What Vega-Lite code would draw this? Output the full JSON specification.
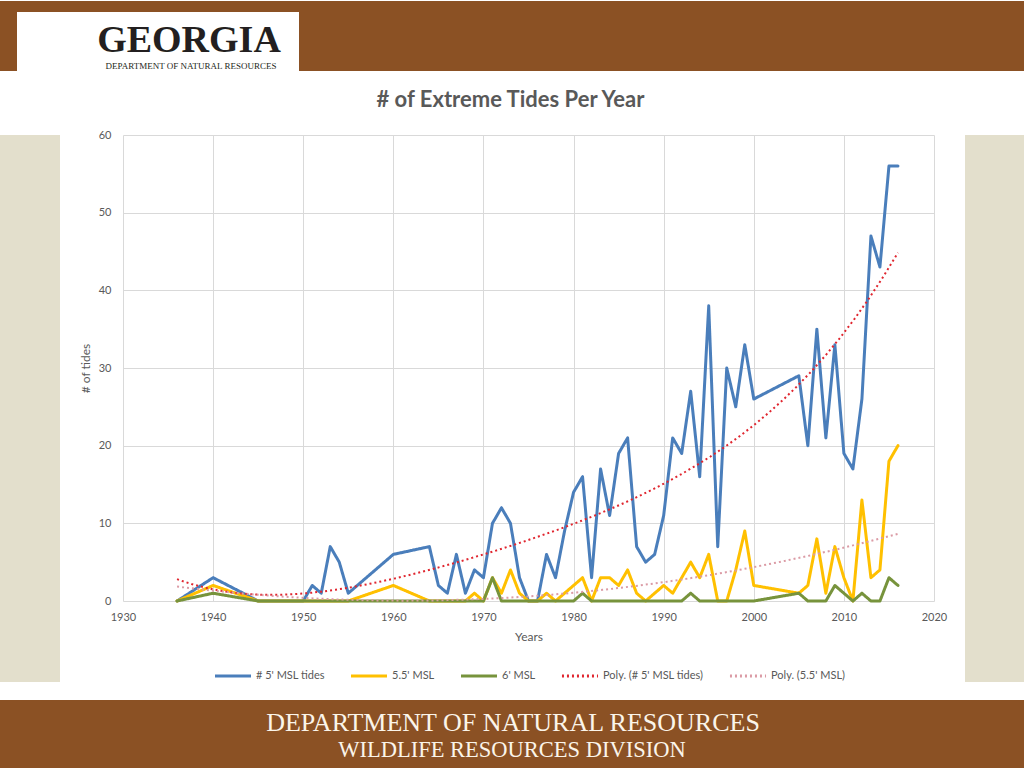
{
  "$schema": "https://vega.github.io/schema/vega-lite/v6.json",
  "padding": 0,
  "background": "#FFFFFF",
  "spacing": 18,
  "resolve": {"scale": {"color": "independent", "strokeDash": "independent"}, "legend": {"color": "independent", "strokeDash": "independent"}},
  "datasets": {
    "tides": [
      {"year": 1936, "a5": 0, "a55": 0, "a6": 0},
      {"year": 1940, "a5": 3, "a55": 2, "a6": 1},
      {"year": 1945, "a5": 0, "a55": 0, "a6": 0},
      {"year": 1950, "a5": 0, "a55": 0, "a6": 0},
      {"year": 1951, "a5": 2, "a55": 0, "a6": 0},
      {"year": 1952, "a5": 1, "a55": 0, "a6": 0},
      {"year": 1953, "a5": 7, "a55": 0, "a6": 0},
      {"year": 1954, "a5": 5, "a55": 0, "a6": 0},
      {"year": 1955, "a5": 1, "a55": 0, "a6": 0},
      {"year": 1960, "a5": 6, "a55": 2, "a6": 0},
      {"year": 1964, "a5": 7, "a55": 0, "a6": 0},
      {"year": 1965, "a5": 2, "a55": 0, "a6": 0},
      {"year": 1966, "a5": 1, "a55": 0, "a6": 0},
      {"year": 1967, "a5": 6, "a55": 0, "a6": 0},
      {"year": 1968, "a5": 1, "a55": 0, "a6": 0},
      {"year": 1969, "a5": 4, "a55": 1, "a6": 0},
      {"year": 1970, "a5": 3, "a55": 0, "a6": 0},
      {"year": 1971, "a5": 10, "a55": 3, "a6": 3},
      {"year": 1972, "a5": 12, "a55": 1, "a6": 0},
      {"year": 1973, "a5": 10, "a55": 4, "a6": 0},
      {"year": 1974, "a5": 3, "a55": 1, "a6": 0},
      {"year": 1975, "a5": 0, "a55": 0, "a6": 0},
      {"year": 1976, "a5": 0, "a55": 0, "a6": 0},
      {"year": 1977, "a5": 6, "a55": 1, "a6": 0},
      {"year": 1978, "a5": 3, "a55": 0, "a6": 0},
      {"year": 1979, "a5": 9, "a55": 1, "a6": 0},
      {"year": 1980, "a5": 14, "a55": 2, "a6": 0},
      {"year": 1981, "a5": 16, "a55": 3, "a6": 1},
      {"year": 1982, "a5": 3, "a55": 0, "a6": 0},
      {"year": 1983, "a5": 17, "a55": 3, "a6": 0},
      {"year": 1984, "a5": 11, "a55": 3, "a6": 0},
      {"year": 1985, "a5": 19, "a55": 2, "a6": 0},
      {"year": 1986, "a5": 21, "a55": 4, "a6": 0},
      {"year": 1987, "a5": 7, "a55": 1, "a6": 0},
      {"year": 1988, "a5": 5, "a55": 0, "a6": 0},
      {"year": 1989, "a5": 6, "a55": 1, "a6": 0},
      {"year": 1990, "a5": 11, "a55": 2, "a6": 0},
      {"year": 1991, "a5": 21, "a55": 1, "a6": 0},
      {"year": 1992, "a5": 19, "a55": 3, "a6": 0},
      {"year": 1993, "a5": 27, "a55": 5, "a6": 1},
      {"year": 1994, "a5": 16, "a55": 3, "a6": 0},
      {"year": 1995, "a5": 38, "a55": 6, "a6": 0},
      {"year": 1996, "a5": 7, "a55": 0, "a6": 0},
      {"year": 1997, "a5": 30, "a55": 0, "a6": 0},
      {"year": 1998, "a5": 25, "a55": 4, "a6": 0},
      {"year": 1999, "a5": 33, "a55": 9, "a6": 0},
      {"year": 2000, "a5": 26, "a55": 2, "a6": 0},
      {"year": 2005, "a5": 29, "a55": 1, "a6": 1},
      {"year": 2006, "a5": 20, "a55": 2, "a6": 0},
      {"year": 2007, "a5": 35, "a55": 8, "a6": 0},
      {"year": 2008, "a5": 21, "a55": 1, "a6": 0},
      {"year": 2009, "a5": 33, "a55": 7, "a6": 2},
      {"year": 2010, "a5": 19, "a55": 3, "a6": 1},
      {"year": 2011, "a5": 17, "a55": 0, "a6": 0},
      {"year": 2012, "a5": 26, "a55": 13, "a6": 1},
      {"year": 2013, "a5": 47, "a55": 3, "a6": 0},
      {"year": 2014, "a5": 43, "a55": 4, "a6": 0},
      {"year": 2015, "a5": 56, "a55": 18, "a6": 3},
      {"year": 2016, "a5": 56, "a55": 20, "a6": 2}
    ],
    "names": [
      {"key": "a5", "series": "# 5' MSL tides", "trend": "Poly. (# 5' MSL tides)"},
      {"key": "a55", "series": "5.5' MSL", "trend": "Poly. (5.5' MSL)"},
      {"key": "a6", "series": "6' MSL", "trend": ""}
    ]
  },
  "vconcat": [
    {
      "spacing": 0,
      "hconcat": [
        {"width": 17, "height": 70, "view": {"fill": "#8B5124", "stroke": null}, "data": {"values": [{}]}, "mark": {"type": "text", "text": ""}},
        {
          "spacing": 0,
          "vconcat": [
            {"width": 282, "height": 11, "view": {"fill": "#8B5124", "stroke": null}, "data": {"values": [{}]}, "mark": {"type": "text", "text": ""}},
            {
              "width": 282, "height": 59,
              "view": {"fill": "#FFFFFF", "stroke": null},
              "layer": [
                {"data": {"values": [{"t": "GEORGIA"}]}, "mark": {"type": "text", "font": "Liberation Serif", "fontSize": 38, "fontWeight": "bold", "fill": "#231F20", "baseline": "alphabetic", "dx": 31, "dy": 10}, "encoding": {"text": {"field": "t"}}},
                {"data": {"values": [{"t": "DEPARTMENT OF NATURAL RESOURCES"}]}, "mark": {"type": "text", "font": "Liberation Serif", "fontSize": 9, "fill": "#231F20", "baseline": "alphabetic", "dx": 33, "dy": 27}, "encoding": {"text": {"field": "t"}}}
              ]
            }
          ]
        },
        {"width": 725, "height": 70, "view": {"fill": "#8B5124", "stroke": null}, "data": {"values": [{}]}, "mark": {"type": "text", "text": ""}}
      ]
    },
    {
      "spacing": 0,
      "resolve": {"scale": {"color": "independent", "strokeDash": "independent"}, "legend": {"color": "independent", "strokeDash": "independent"}},
      "hconcat": [
        {"width": 60, "height": 547, "view": {"fill": "#E3DFCC", "stroke": null}, "data": {"values": [{}]}, "mark": {"type": "text", "text": ""}},
        {"width": 19, "height": 1, "data": {"values": [{}]}, "mark": {"type": "text", "text": ""}},
        {
          "width": 811,
          "height": 466,
          "title": {"text": "# of Extreme Tides Per Year", "fontSize": 22, "fontWeight": "bold", "color": "#595959", "font": "Lato", "offset": 17, "anchor": "middle", "frame": "group", "dx": -18},
          "encoding": {
            "x": {"field": "year", "type": "quantitative", "scale": {"domain": [1930, 2020], "nice": false, "zero": false},
                  "axis": {"title": "Years", "values": [1930, 1940, 1950, 1960, 1970, 1980, 1990, 2000, 2010, 2020], "format": "d", "labelPadding": 10, "titlePadding": 9, "labelFlush": false}},
            "y": {"field": "value", "type": "quantitative", "scale": {"domain": [0, 60], "nice": false},
                  "axis": {"title": "# of tides", "values": [0, 10, 20, 30, 40, 50, 60], "labelPadding": 12, "titlePadding": 6, "labelFlush": false}},
            "color": {"field": "series", "type": "nominal",
                      "scale": {"domain": ["# 5' MSL tides", "5.5' MSL", "6' MSL", "Poly. (# 5' MSL tides)", "Poly. (5.5' MSL)"],
                                "range": ["#4A7EBB", "#FFC000", "#77933C", "#E0262F", "#DB9BA5"]},
                      "legend": {"title": null}},
            "strokeDash": {"field": "series", "type": "nominal",
                      "scale": {"domain": ["# 5' MSL tides", "5.5' MSL", "6' MSL", "Poly. (# 5' MSL tides)", "Poly. (5.5' MSL)"],
                                "range": [[1, 0], [1, 0], [1, 0], [2, 3], [2, 3]]},
                      "legend": {"title": null}}
          },
          "layer": [
            {
              "data": {"name": "tides"},
              "transform": [
                {"fold": ["a5", "a55", "a6"]},
                {"lookup": "key", "from": {"data": {"name": "names"}, "key": "key", "fields": ["series"]}}
              ],
              "mark": {"type": "line", "strokeWidth": 3, "strokeJoin": "round", "strokeCap": "round"}
            },
            {
              "data": {"name": "tides"},
              "transform": [
                {"fold": ["a5"]},
                {"lookup": "key", "from": {"data": {"name": "names"}, "key": "key", "fields": ["trend"]}, "as": ["series"]},
                {"regression": "value", "on": "year", "groupby": ["series"], "method": "poly", "order": 4}
              ],
              "mark": {"type": "line", "strokeWidth": 2}
            },
            {
              "data": {"name": "tides"},
              "transform": [
                {"fold": ["a55"]},
                {"lookup": "key", "from": {"data": {"name": "names"}, "key": "key", "fields": ["trend"]}, "as": ["series"]},
                {"regression": "value", "on": "year", "groupby": ["series"], "method": "poly", "order": 2}
              ],
              "mark": {"type": "line", "strokeWidth": 2}
            }
          ]
        },
        {"width": 18, "height": 1, "data": {"values": [{}]}, "mark": {"type": "text", "text": ""}},
        {"width": 59, "height": 547, "view": {"fill": "#E3DFCC", "stroke": null}, "data": {"values": [{}]}, "mark": {"type": "text", "text": ""}}
      ]
    },
    {
      "width": 1024,
      "height": 68,
      "view": {"fill": "#8B5124", "stroke": null},
      "layer": [
        {"data": {"values": [{"t": "DEPARTMENT OF NATURAL RESOURCES"}]}, "mark": {"type": "text", "font": "Liberation Serif", "fontSize": 26, "fill": "#FBF5EA", "baseline": "alphabetic", "dx": 1, "dy": -3}, "encoding": {"text": {"field": "t"}}},
        {"data": {"values": [{"t": "WILDLIFE RESOURCES DIVISION"}]}, "mark": {"type": "text", "font": "Liberation Serif", "fontSize": 22.5, "fill": "#FBF5EA", "baseline": "alphabetic", "dx": 0, "dy": 23}, "encoding": {"text": {"field": "t"}}}
      ]
    }
  ],
  "config": {
    "font": "Lato",
    "view": {"stroke": null},
    "axis": {"domain": false, "ticks": false, "grid": true, "gridColor": "#D9D9D9", "gridWidth": 1, "labelColor": "#595959", "labelFontSize": 11, "labelFont": "Lato", "titleColor": "#595959", "titleFontSize": 12, "titleFontWeight": "normal", "titleFont": "Lato"},
    "legend": {"orient": "bottom", "direction": "horizontal", "symbolType": "stroke", "symbolSize": 1300, "symbolStrokeWidth": 3, "labelFontSize": 11, "labelColor": "#595959", "labelFont": "Lato", "columnPadding": 19, "labelOffset": 3, "offset": 14, "layout": {"bottom": {"anchor": "middle"}}}
  }
}
